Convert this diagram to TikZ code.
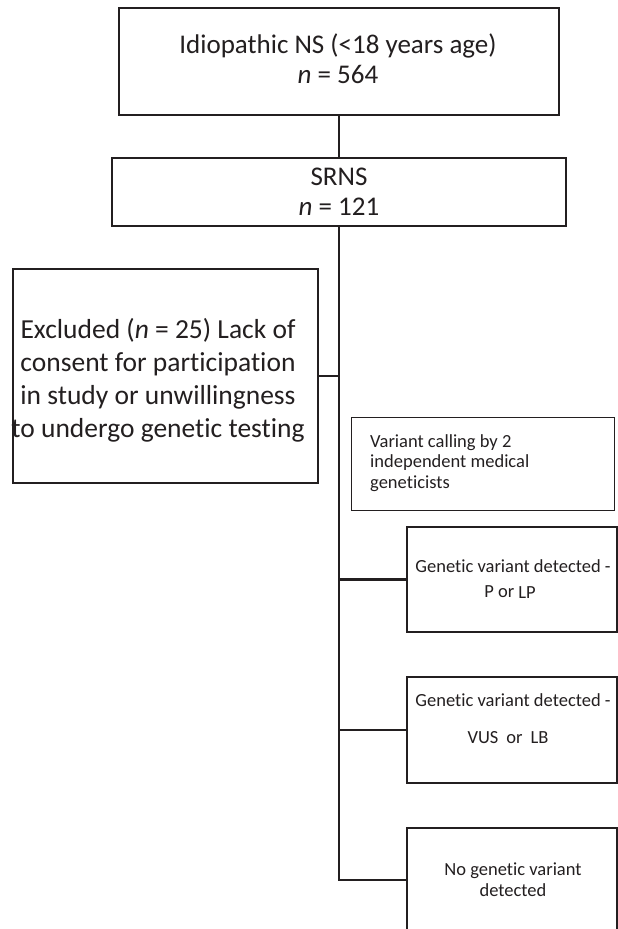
\documentclass[tikz,border=0pt]{standalone}
\usepackage{fontspec}
\setmainfont{Carlito}[Ligatures=NoCommon]
\definecolor{ink}{HTML}{231F20}
\begin{document}
\begin{tikzpicture}[x=1pt,y=-1pt,
  box/.style={draw=ink, line width=2.2pt, inner sep=0pt, outer sep=0pt, fill=white},
  thinbox/.style={draw=ink, line width=1pt, inner sep=0pt, outer sep=0pt},
  conn/.style={draw=ink, line width=2.2pt},
  txt/.style={inner sep=0pt, anchor=base, text=ink},
  big/.style={font=\fontsize{27}{30}\selectfont},
  bigx/.style={font=\fontsize{27.5}{33}\selectfont},
  small/.style={font=\fontsize{18.5}{21}\selectfont}
]
\path[use as bounding box, clip] (0,0) rectangle (618,929);

\coordinate (bend) at (339,880);

% boxes
\node[box, minimum width=440pt, minimum height=107pt] (b1) at (339,61.5) {};
\node[box, minimum width=454pt, minimum height=68pt] (b2) at (339,192) {};
\node[box, minimum width=305pt, minimum height=214pt] (ex) at (165.5,376) {};
\node[thinbox, minimum width=263pt, minimum height=93pt] (vc) at (482.5,463.5) {};
\node[box, minimum width=210pt, minimum height=105pt] (p) at (512,579.5) {};
\node[box, minimum width=210pt, minimum height=106pt] (vus) at (512,730) {};
\node[box, minimum width=210pt, minimum height=132pt] (nv) at (512,894) {};

% connectors
\draw[conn] (b1.south) -- (b2.north);
\draw[conn] (b2.south) -- (bend) -- (bend -| nv.west);
\draw[conn] (b2.south |- ex.east) -- (ex.east);
\draw[conn] (b2.south |- p.west) -- (p.west);
\draw[conn] (b2.south |- vus.west) -- (vus.west);

% texts
\node[txt, big] (t1a) at (338,53) {Idiopathic NS (<18 years age)};
\node[txt, big] (t1b) at (338,83) {\textit{n} = 564};

\node[txt, big] (t2a) at (339,185) {SRNS};
\node[txt, big] (t2b) at (339,215) {\textit{n} = 121};

\node[txt, bigx] (exa) at (158,338) {Excluded (\textit{n} = 25) Lack of};
\node[txt, bigx] (exb) at (158,371) {consent for participation};
\node[txt, bigx] (exc) at (158,404) {in study or unwillingness};
\node[txt, bigx] (exd) at (158,437) {to undergo genetic testing};

\node[txt, small, anchor=base west] (vca) at (370,447) {Variant calling by 2};
\node[txt, small, anchor=base west] (vcb) at (370,467.5) {independent medical};
\node[txt, small, anchor=base west] (vcc) at (370,488) {geneticists};

\node[txt, small] (pa) at (513,572) {Genetic variant detected -};
\node[txt, small] (pb) at (510,597) {P or \raisebox{-1.5pt}{LP}};

\node[txt, small] (va) at (513,706) {Genetic variant detected -};
\node[txt, small] (vb) at (508,743) {VUS\hspace{8pt}or\hspace{8pt}LB};

\node[txt, small] (na) at (513,875) {No genetic variant};
\node[txt, small] (nb) at (513,896) {detected};
\end{tikzpicture}
\end{document}
